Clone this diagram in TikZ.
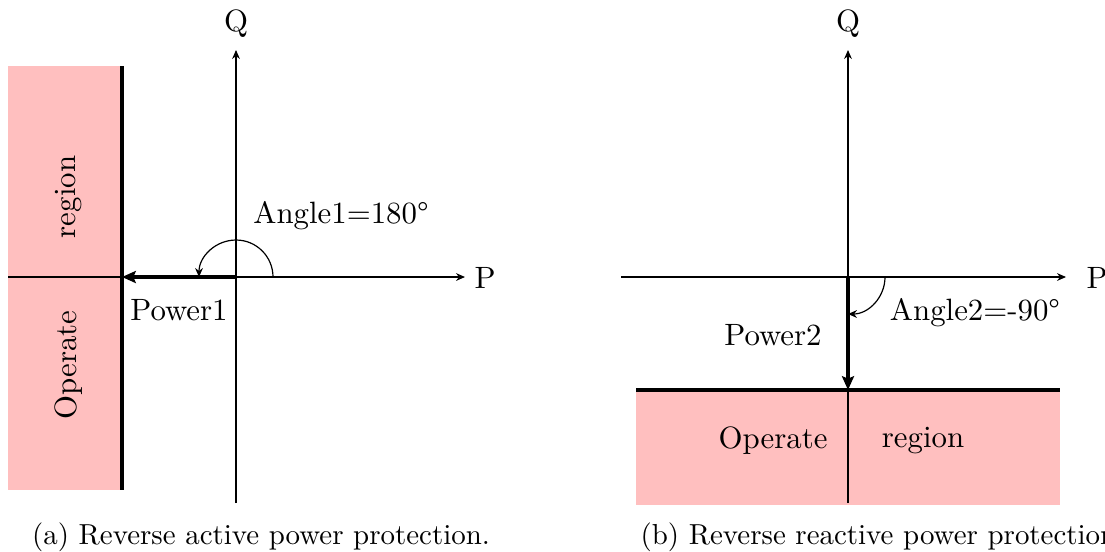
\documentclass[tikz,border=0pt]{standalone}
\usetikzlibrary{arrows.meta}
\begin{document}
\begin{tikzpicture}[x=0.334pt,y=-0.334pt,
  axis/.style={line width=0.35pt,-{Stealth[length=3pt,width=2.6pt]}},
  power/.style={line width=1.3pt,-{Stealth[length=4.6pt,width=4pt,inset=0.8pt]}},
  anglearc/.style={line width=0.4pt,-{Stealth[length=3pt,width=2.6pt]}},
  boundary/.style={line width=1.2pt},
  zone/.style={fill=red!25,draw=none},
  lbl/.style={inner sep=0pt,font=\fontsize{10.3}{12.4}\selectfont},
  captext/.style={inner sep=0pt,font=\fontsize{9.66}{11.6}\selectfont}]
\useasboundingbox (0,0) rectangle (1105,551);

% ---------- (a) reverse active power ----------
\coordinate (O1) at (236,277);
\coordinate (B1) at (122,277);
\fill[zone] (8,66) rectangle (122,490);
\node[lbl,rotate=90] (reg1) at (69,197) {region};
\node[lbl,rotate=90] (op1) at (69,365) {Operate};
\coordinate (xl1) at (8,277);
\coordinate (xr1) at (465,277);
\coordinate (yb1) at (236,503);
\coordinate (yt1) at (236,50);
\draw[axis] (xl1) -- (xr1);
\draw[axis] (yb1) -- (yt1);
\node[lbl] (P1) at (485,278) {P};
\node[lbl] (Q1) at (236,24) {Q};
\draw[boundary] (122,66) -- (122,490);
\draw[power] (O1) -- (B1);
\draw[anglearc] ([xshift=37*0.334pt]O1) arc[start angle=0,end angle=180,radius=37*0.334pt];
\node[lbl] (ang1) at (341,216) {Angle1=180°};
\node[lbl] (pw1) at (179,310) {Power1};
\node[captext] (cap1) at (261,537) {(a) Reverse active power protection.};

% ---------- (b) reverse reactive power ----------
\coordinate (O2) at (848,277);
\coordinate (B2) at (848,390);
\fill[zone] (636,390) rectangle (1060,505);
\coordinate (xl2) at (621,277);
\coordinate (xr2) at (1066,277);
\coordinate (yb2) at (848,503);
\coordinate (yt2) at (848,50);
\draw[axis] (xl2) -- (xr2);
\draw[axis] (yb2) -- (yt2);
\node[lbl] (P2) at (1097,278) {P};
\node[lbl] (Q2) at (848,24) {Q};
\draw[boundary] (636,390) -- (1060,390);
\draw[power] (O2) -- (B2);
\draw[anglearc] ([xshift=37*0.334pt]O2) arc[start angle=0,end angle=-90,radius=37*0.334pt];
\node[lbl] (ang2) at (975,313) {Angle2=-90°};
\node[lbl] (pw2) at (773,335) {Power2};
\node[lbl] (op2) at (773,441) {Operate};
\node[lbl] (reg2) at (923,441) {region};
\node[captext,anchor=west] (cap2) at (640,537) {(b) Reverse reactive power protection.};
\end{tikzpicture}
\end{document}
